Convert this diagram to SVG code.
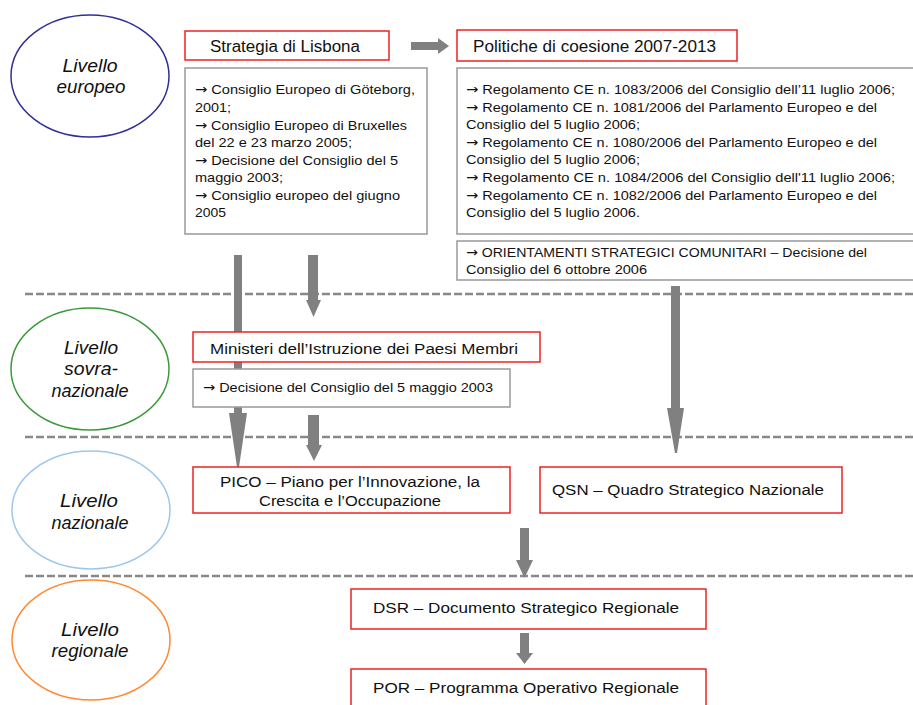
<svg xmlns="http://www.w3.org/2000/svg" width="913" height="705" viewBox="0 0 913 705">
<style>
  text { font-family: "Liberation Sans", Arial, sans-serif; fill: #111; }
  .ar { font-family: "DejaVu Sans", sans-serif; }
  .lvl { font-style: italic; font-size: 18px; text-anchor: middle; }
  .ttl { font-size: 16px; }
  .bt { font-size: 13.5px; }
  .nt { font-size: 14px; }
  .red { fill: #fff; stroke: #ee2222; stroke-width: 1.5; }
  .gry { fill: #fff; stroke: #999; stroke-width: 1.5; }
  .sep { stroke: #888; stroke-width: 2.5; stroke-dasharray: 8 3; fill: none; }
  .arr { fill: #808080; stroke: none; }
  .ell { fill: none; stroke-width: 1.5; }
</style>
<rect x="0" y="0" width="913" height="705" fill="#fff"/>

<g id="separators">
  <line class="sep" x1="25" y1="294" x2="913" y2="294"/>
  <line class="sep" x1="25" y1="437" x2="913" y2="437"/>
  <line class="sep" x1="25" y1="576" x2="913" y2="576"/>
</g>

<g id="connectors">
  <polygon class="arr" points="411,42 438,42 438,38 449,46 438,54 438,50 411,50"/>
  <rect class="arr" x="234" y="255" width="8" height="158"/>
  <polygon class="arr" points="229,413 247,413 239,467 237,467"/>
  <polygon class="arr" points="308,255 318,255 318,300 321,300 313.5,317 306,300 308,300"/>
  <polygon class="arr" points="308,415 319,415 319,445 322,445 314,461 306,445 308,445"/>
  <rect class="arr" x="671" y="286" width="9" height="122"/>
  <polygon class="arr" points="667,408 684,408 677,453 675,453"/>
  <polygon class="arr" points="520,528 529,528 529,560 533,560 524.5,578 516,560 520,560"/>
  <polygon class="arr" points="520,633 529,633 529,653 533,653 524.5,664 516,653 520,653"/>
</g>

<g id="livello-europeo">
  <ellipse class="ell" stroke="#2f2f9a" cx="90" cy="76" rx="79" ry="61"/>
  <text class="lvl" x="90" y="72" textLength="55" lengthAdjust="spacingAndGlyphs">Livello</text>
  <text class="lvl" x="91" y="93" textLength="69" lengthAdjust="spacingAndGlyphs">europeo</text>
</g>
<g id="livello-sovranazionale">
  <ellipse class="ell" stroke="#3a9a3a" cx="90" cy="369" rx="79" ry="61"/>
  <text class="lvl" x="91" y="354" textLength="54" lengthAdjust="spacingAndGlyphs">Livello</text>
  <text class="lvl" x="91" y="375" textLength="54" lengthAdjust="spacingAndGlyphs">sovra-</text>
  <text class="lvl" x="90" y="397" textLength="77" lengthAdjust="spacingAndGlyphs">nazionale</text>
</g>
<g id="livello-nazionale">
  <ellipse class="ell" stroke="#9cc8ee" cx="91" cy="510" rx="79" ry="59"/>
  <text class="lvl" x="89" y="507" textLength="58" lengthAdjust="spacingAndGlyphs">Livello</text>
  <text class="lvl" x="90" y="529" textLength="77" lengthAdjust="spacingAndGlyphs">nazionale</text>
</g>
<g id="livello-regionale">
  <ellipse class="ell" stroke="#ff8833" cx="91" cy="640" rx="79" ry="60"/>
  <text class="lvl" x="90" y="636" textLength="58" lengthAdjust="spacingAndGlyphs">Livello</text>
  <text class="lvl" x="90" y="657" textLength="77" lengthAdjust="spacingAndGlyphs">regionale</text>
</g>

<g id="strategia-lisbona">
  <rect class="red" x="185" y="31" width="204" height="29"/>
  <text class="ttl" x="210" y="52" textLength="150" lengthAdjust="spacingAndGlyphs">Strategia di Lisbona</text>
</g>
<g id="lisbona-riferimenti">
  <rect class="gry" x="185" y="68" width="242" height="166"/>
  <text class="bt" x="195" y="94" textLength="220" lengthAdjust="spacingAndGlyphs"><tspan class="ar">→</tspan> Consiglio Europeo di Göteborg,</text>
  <text class="bt" x="195" y="112" textLength="36" lengthAdjust="spacingAndGlyphs">2001;</text>
  <text class="bt" x="195" y="130" textLength="212" lengthAdjust="spacingAndGlyphs"><tspan class="ar">→</tspan> Consiglio Europeo di Bruxelles</text>
  <text class="bt" x="195" y="147" textLength="157" lengthAdjust="spacingAndGlyphs">del 22 e 23 marzo 2005;</text>
  <text class="bt" x="195" y="165" textLength="203" lengthAdjust="spacingAndGlyphs"><tspan class="ar">→</tspan> Decisione del Consiglio del 5</text>
  <text class="bt" x="195" y="182" textLength="88" lengthAdjust="spacingAndGlyphs">maggio 2003;</text>
  <text class="bt" x="195" y="200" textLength="205" lengthAdjust="spacingAndGlyphs"><tspan class="ar">→</tspan> Consiglio europeo del giugno</text>
  <text class="bt" x="195" y="217" textLength="31" lengthAdjust="spacingAndGlyphs">2005</text>
</g>

<g id="politiche-coesione">
  <rect class="red" x="457" y="30" width="280" height="31"/>
  <text class="ttl" x="473" y="52" textLength="243" lengthAdjust="spacingAndGlyphs">Politiche di coesione 2007-2013</text>
</g>
<g id="regolamenti">
  <rect class="gry" x="457" y="68" width="470" height="166"/>
  <text class="bt" x="466" y="94" textLength="429" lengthAdjust="spacingAndGlyphs"><tspan class="ar">→</tspan> Regolamento CE n. 1083/2006 del Consiglio dell’11 luglio 2006;</text>
  <text class="bt" x="466" y="112" textLength="411" lengthAdjust="spacingAndGlyphs"><tspan class="ar">→</tspan> Regolamento CE n. 1081/2006 del Parlamento Europeo e del</text>
  <text class="bt" x="466" y="129" textLength="174" lengthAdjust="spacingAndGlyphs">Consiglio del 5 luglio 2006;</text>
  <text class="bt" x="466" y="147" textLength="411" lengthAdjust="spacingAndGlyphs"><tspan class="ar">→</tspan> Regolamento CE n. 1080/2006 del Parlamento Europeo e del</text>
  <text class="bt" x="466" y="164" textLength="174" lengthAdjust="spacingAndGlyphs">Consiglio del 5 luglio 2006;</text>
  <text class="bt" x="466" y="182" textLength="429" lengthAdjust="spacingAndGlyphs"><tspan class="ar">→</tspan> Regolamento CE n. 1084/2006 del Consiglio dell'11 luglio 2006;</text>
  <text class="bt" x="466" y="200" textLength="411" lengthAdjust="spacingAndGlyphs"><tspan class="ar">→</tspan> Regolamento CE n. 1082/2006 del Parlamento Europeo e del</text>
  <text class="bt" x="466" y="217" textLength="174" lengthAdjust="spacingAndGlyphs">Consiglio del 5 luglio 2006.</text>
</g>
<g id="orientamenti">
  <rect class="gry" x="457" y="241" width="470" height="39"/>
  <text class="bt" x="466" y="257" textLength="401" lengthAdjust="spacingAndGlyphs"><tspan class="ar">→</tspan> ORIENTAMENTI STRATEGICI COMUNITARI – Decisione del</text>
  <text class="bt" x="466" y="274" textLength="181" lengthAdjust="spacingAndGlyphs">Consiglio del 6 ottobre 2006</text>
</g>

<g id="ministeri">
  <rect class="red" x="193" y="332" width="347" height="30"/>
  <text class="nt" x="210" y="354" textLength="308" lengthAdjust="spacingAndGlyphs">Ministeri dell’Istruzione dei Paesi Membri</text>
</g>
<g id="decisione-2003">
  <rect class="gry" x="193" y="369" width="317" height="38"/>
  <text class="bt" x="203" y="392" textLength="290" lengthAdjust="spacingAndGlyphs"><tspan class="ar">→</tspan> Decisione del Consiglio del 5 maggio 2003</text>
</g>

<g id="pico">
  <rect class="red" x="193" y="467" width="317" height="46"/>
  <text class="nt" x="350" y="487" text-anchor="middle" textLength="260" lengthAdjust="spacingAndGlyphs">PICO – Piano per l’Innovazione, la</text>
  <text class="nt" x="350" y="506" text-anchor="middle" textLength="182" lengthAdjust="spacingAndGlyphs">Crescita e l’Occupazione</text>
</g>
<g id="qsn">
  <rect class="red" x="540" y="467" width="302" height="46"/>
  <text class="nt" x="688" y="495" text-anchor="middle" textLength="272" lengthAdjust="spacingAndGlyphs">QSN – Quadro Strategico Nazionale</text>
</g>

<g id="dsr">
  <rect class="red" x="351" y="589" width="355" height="40"/>
  <text class="nt" x="526" y="613" text-anchor="middle" textLength="306" lengthAdjust="spacingAndGlyphs">DSR – Documento Strategico Regionale</text>
</g>
<g id="por">
  <rect class="red" x="351" y="669" width="355" height="50"/>
  <text class="nt" x="526" y="693" text-anchor="middle" textLength="306" lengthAdjust="spacingAndGlyphs">POR – Programma Operativo Regionale</text>
</g>
</svg>
